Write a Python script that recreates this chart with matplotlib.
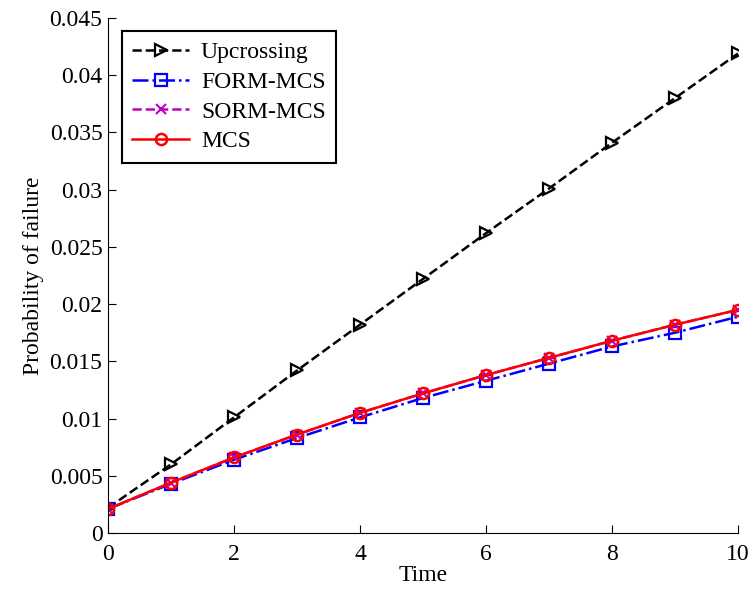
import numpy as np
import matplotlib.pyplot as plt

plt.rcParams['font.family'] = ['Liberation Serif', 'DejaVu Serif']
plt.rcParams['font.size'] = 17

time = np.arange(0, 11)
upcrossing = [0.0022, 0.0060, 0.0101, 0.0142, 0.0182, 0.0222, 0.0262, 0.0301, 0.0341, 0.0380, 0.0419]
form_mcs = [0.0021, 0.0043, 0.0064, 0.0083, 0.0101, 0.0118, 0.0133, 0.0148, 0.0163, 0.0175, 0.0189]
sorm_mcs = [0.0021, 0.0044, 0.0066, 0.0086, 0.0105, 0.0122, 0.0138, 0.0153, 0.0168, 0.0182, 0.0195]
mcs = [0.0021, 0.0044, 0.0066, 0.0086, 0.0105, 0.0122, 0.0138, 0.0153, 0.0168, 0.0182, 0.0195]

fig = plt.figure(figsize=(7.51, 5.90), dpi=100)
ax = fig.add_axes([0.1438, 0.0966, 0.8389, 0.8729])

ax.plot(time, upcrossing, 'k--', marker='>', mfc='none', ms=8, mew=1.6, lw=1.8, label='Upcrossing')
ax.plot(time, form_mcs, color='b', ls='-.', marker='s', mfc='none', ms=8, mew=1.6, lw=1.8, label='FORM-MCS')
ax.plot(time, sorm_mcs, color='m', ls='--', marker='x', ms=7, mew=1.5, lw=1.8, label='SORM-MCS')
ax.plot(time, mcs, color='r', ls='-', marker='o', mfc='none', ms=8, mew=1.8, lw=1.8, label='MCS')

ax.set_xlim(0, 10)
ax.set_ylim(0, 0.045)
ax.set_xticks([0, 2, 4, 6, 8, 10])
ax.set_yticks(np.arange(0, 0.0451, 0.005))
ax.set_yticklabels(['0', '0.005', '0.01', '0.015', '0.02', '0.025', '0.03', '0.035', '0.04', '0.045'])
ax.spines['top'].set_visible(False)
ax.spines['right'].set_visible(False)
ax.tick_params(direction='in', length=6, top=False, right=False)
ax.tick_params(axis='x', pad=8)
ax.tick_params(axis='y', pad=4)
ax.set_xlabel('Time', labelpad=0)
ax.set_ylabel('Probability of failure', labelpad=4)

leg = ax.legend(loc='upper left', bbox_to_anchor=(0.022, 0.975), borderaxespad=0,
                fancybox=False, edgecolor='k', framealpha=1, handlelength=2.4,
                handletextpad=0.5, borderpad=0.45, labelspacing=0.35)
leg.get_frame().set_linewidth(1.5)

fig.savefig('out.png', dpi=100)
